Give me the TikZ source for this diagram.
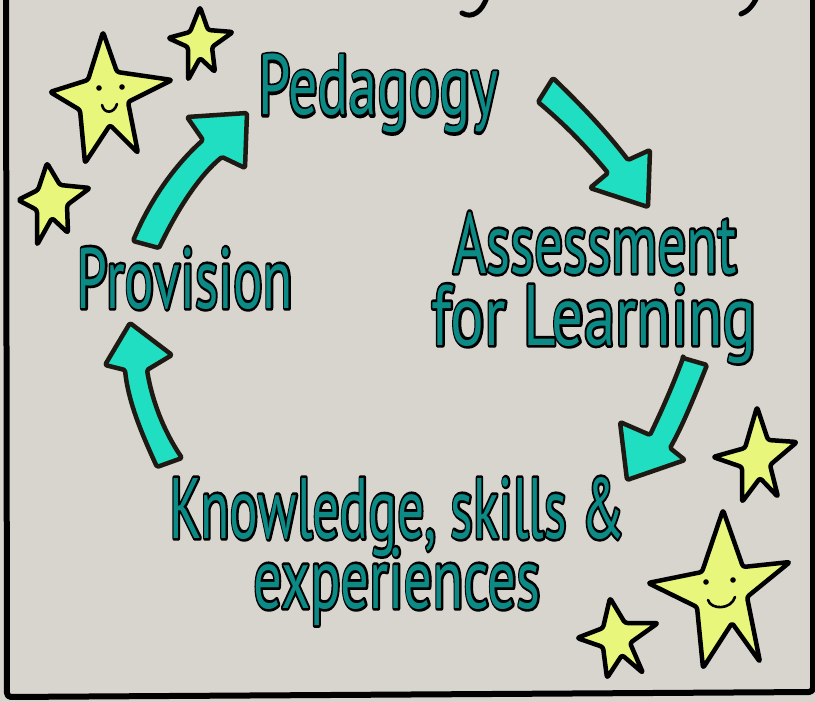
\documentclass[tikz,border=0pt]{standalone}
\usepackage{fontspec}
\setmainfont{PT Sans}
\usepackage{graphicx}
\definecolor{bgc}{RGB}{216,212,206}
\definecolor{tealt}{RGB}{12,138,134}
\definecolor{arrowc}{RGB}{32,222,194}
\definecolor{arrowline}{RGB}{30,25,18}
\definecolor{starc}{RGB}{232,246,124}
\newcommand\olt[2]{\resizebox{#1bp}{\height}{\rlap{\textcolor{black}{\special{pdf:literal direct 2 Tr 5.4 w 1 j}#2\special{pdf:literal direct 0 Tr}}}#2}}
\begin{document}
\begin{tikzpicture}[x=1bp,y=-1bp,
  lbl/.style={anchor=base, inner sep=0pt, text=tealt, font=\fontsize{86}{86}\selectfont},
  blockarrow/.style={fill=arrowc, draw=arrowline, line width=4.5bp, line join=round, rounded corners=1.5bp},
  starshape/.style={fill=starc, draw=black, line width=4.5bp, line join=round, rounded corners=2.5bp},
  face/.style={draw=black, line width=2.6bp, line cap=round},
  frame/.style={draw=black, line width=6bp, line cap=round, line join=round}]
\useasboundingbox (0,0) rectangle (815,702);
\fill[bgc] (0,0) rectangle (815,702);
% frame
\draw[frame, rounded corners=4bp] (6,-5) -- (7,697) -- (813,692) -- (813,-5);
% descenders of cut-off title
\draw[black, line width=5bp, line cap=round] (487,-3) .. controls (482,12) and (472,19) .. (462,13);
\draw[black, line width=5bp, line cap=round] (757,-3) .. controls (753,6) and (747,12) .. (741,14);
% stars
\draw[starshape] (103,32) -- (117,72) -- (172,80) -- (128,102) -- (138,153) -- (110,125) -- (85,163) -- (80,110) -- (50,92) -- (88,80) -- cycle;
\draw[starshape] (200,7) -- (208,30) -- (233,32) -- (212,47) -- (215,72) -- (200,58) -- (188,80) -- (188,47) -- (168,38) -- (190,32) -- cycle;
\draw[starshape] (47,163) -- (60,185) -- (90,188) -- (67,205) -- (68,233) -- (52,218) -- (37,245) -- (37,210) -- (18,200) -- (38,190) -- cycle;
\draw[starshape] (757,407) -- (768,440) -- (797,442) -- (770,465) -- (778,497) -- (760,478) -- (742,502) -- (742,467) -- (713,457) -- (745,448) -- cycle;
\draw[starshape] (723,510) -- (743,567) -- (790,562) -- (747,597) -- (760,662) -- (732,623) -- (703,668) -- (697,607) -- (648,583) -- (702,572) -- cycle;
\draw[starshape] (610,598) -- (625,623) -- (658,623) -- (630,643) -- (643,673) -- (622,655) -- (607,678) -- (603,647) -- (577,638) -- (603,628) -- cycle;
% faces
\fill (99,88) circle (2.8bp);
\fill (122,87) circle (2.8bp);
\draw[face] (102,105) .. controls (104,114) and (114,114) .. (117,104);
\fill (706,582) circle (2.8bp);
\fill (733,580) circle (2.8bp);
\draw[face] (708,600) .. controls (711,610) and (731,610) .. (735,597);
% arrows
\draw[blockarrow] (133,241) .. controls (150,200) and (175,165) .. (203,140) -- (187,117) -- (247,113) -- (245,168) -- (222,157) .. controls (200,175) and (178,208) .. (159,248) -- cycle;
\draw[blockarrow] (553,78) .. controls (580,104) and (605,130) .. (628,160) -- (650,150) -- (648,207) -- (590,188) -- (608,173) .. controls (585,145) and (562,122) .. (538,102) -- cycle;
\draw[blockarrow] (683,358) -- (707,365) .. controls (695,395) and (683,425) .. (670,448) -- (685,460) -- (627,480) -- (620,422) -- (650,435) .. controls (662,410) and (673,385) .. (683,358) -- cycle;
\draw[blockarrow] (157,467) .. controls (140,430) and (128,400) .. (125,370) -- (105,365) -- (130,323) -- (172,355) -- (147,370) .. controls (152,400) and (163,430) .. (182,458) -- cycle;
% labels
\node[lbl] (ped) at (378,115) {\olt{240}{Pedagogy}};
\node[lbl] (afl1) at (595,273) {\olt{284}{Assessment}};
\node[lbl] (afl2) at (594,345) {\olt{325}{for Learning}};
\node[lbl] (prov) at (185,308) {\olt{216}{Provision}};
\node[lbl] (kse1) at (397,538) {\olt{455}{Knowledge, skills \&}};
\node[lbl] (kse2) at (397,608) {\olt{287}{experiences}};
\end{tikzpicture}
\end{document}
